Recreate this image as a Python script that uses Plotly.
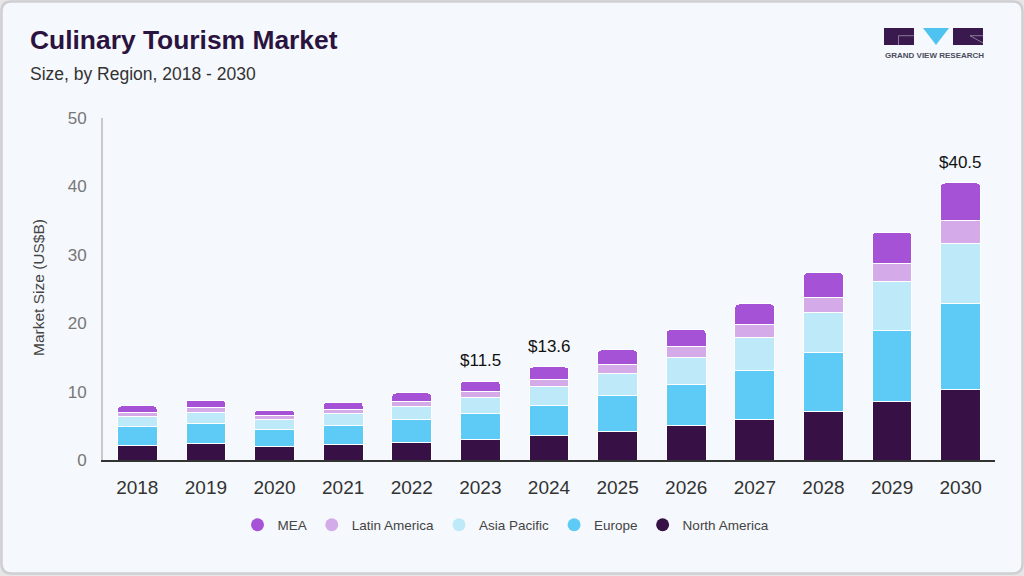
import plotly.graph_objects as go

years = ["2018", "2019", "2020", "2021", "2022", "2023", "2024", "2025", "2026", "2027", "2028", "2029", "2030"]
north_america = [2.1, 2.45, 2.0, 2.3, 2.6, 3.0, 3.6, 4.2, 5.0, 5.95, 7.1, 8.6, 10.3]
europe = [2.75, 2.85, 2.5, 2.75, 3.35, 3.8, 4.4, 5.25, 6.0, 7.1, 8.6, 10.3, 12.55]
asia_pacific = [1.45, 1.6, 1.45, 1.7, 1.85, 2.35, 2.75, 3.2, 4.0, 4.9, 5.9, 7.2, 8.85]
latin_america = [0.65, 0.75, 0.6, 0.65, 0.75, 0.9, 1.05, 1.35, 1.6, 1.9, 2.2, 2.65, 3.3]
mea = [0.95, 1.1, 0.75, 1.05, 1.25, 1.45, 1.8, 2.1, 2.45, 2.96, 3.6, 4.55, 5.5]
labelled_years = ["2023", "2024", "2030"]

series = [
    ("North America", north_america, "#371046"),
    ("Europe", europe, "#5DCBF5"),
    ("Asia Pacific", asia_pacific, "#BEE9F9"),
    ("Latin America", latin_america, "#D4AAE9"),
    ("MEA", mea, "#A552D7"),
]

W, H = 1024, 576
ML, MR, MT, MB = 103, 29, 118, 116
PW, PH = W - ML - MR, H - MT - MB


def px(x):
    return (x - ML) / PW


def py(y):
    return (H - MB - y) / PH


fig = go.Figure()
for name, vals, col in series:
    fig.add_trace(go.Bar(
        x=list(years), y=list(vals), name=name,
        marker=dict(color=col, line=dict(color="white", width=1)),
        showlegend=False,
    ))
for name, vals, col in reversed(series):
    fig.add_trace(go.Scatter(
        x=[0], y=[0], mode="markers", name=name, xaxis="x2", yaxis="y2",
        marker=dict(symbol="circle", size=13, color=col),
    ))

totals = [sum(v[i] for _, v, _ in series) for i in range(len(years))]
for i, yr in enumerate(years):
    if yr in labelled_years:
        # category axis: numeric x is the category index
        fig.add_annotation(x=i, y=totals[i], text=f"${totals[i]:.1f}", showarrow=False,
                           yanchor="bottom", yshift=9, font=dict(size=17, color="#111111"))

# card background with rounded corners
r = 10
cx0, cx1, cy0, cy1 = 1.5, W - 1.5, 1.5, H - 2.5
path = (f"M {px(cx0 + r)} {py(cy0)} L {px(cx1 - r)} {py(cy0)} Q {px(cx1)} {py(cy0)} {px(cx1)} {py(cy0 + r)} "
        f"L {px(cx1)} {py(cy1 - r)} Q {px(cx1)} {py(cy1)} {px(cx1 - r)} {py(cy1)} "
        f"L {px(cx0 + r)} {py(cy1)} Q {px(cx0)} {py(cy1)} {px(cx0)} {py(cy1 - r)} "
        f"L {px(cx0)} {py(cy0 + r)} Q {px(cx0)} {py(cy0)} {px(cx0 + r)} {py(cy0)} Z")
shapes = [dict(type="path", xref="paper", yref="paper", path=path, fillcolor="#F5F8FC",
               line=dict(color="#CFCFD2", width=2.5), layer="below")]

# logo
logo_dark = "#3A1A4E"
shapes += [
    dict(type="rect", xref="paper", yref="paper", x0=px(884), x1=px(914), y0=py(45), y1=py(28),
         fillcolor=logo_dark, line=dict(width=0)),
    dict(type="path", xref="paper", yref="paper",
         path=f"M {px(923)} {py(28)} L {px(949)} {py(28)} L {px(936)} {py(45)} Z",
         fillcolor="#4FC3F0", line=dict(width=0)),
    dict(type="rect", xref="paper", yref="paper", x0=px(953), x1=px(983), y0=py(45), y1=py(28),
         fillcolor=logo_dark, line=dict(width=0)),
    dict(type="path", xref="paper", yref="paper",
         path=f"M {px(914)} {py(35.7)} L {px(898.5)} {py(35.7)} L {px(898.5)} {py(45)}",
         line=dict(color="#9C90A8", width=0.8)),
    dict(type="path", xref="paper", yref="paper",
         path=f"M {px(983)} {py(35.7)} L {px(970)} {py(35.7)} L {px(983)} {py(43)}",
         line=dict(color="#9C90A8", width=0.8)),
]

fig.add_annotation(xref="paper", yref="paper", x=px(934), y=py(55), text="<b>GRAND VIEW RESEARCH</b>",
                   showarrow=False, xanchor="center", yanchor="middle",
                   font=dict(size=8, color="#4A4D5C"))
fig.add_annotation(xref="paper", yref="paper", x=px(28), y=py(40), text="<b>Culinary Tourism Market</b>",
                   showarrow=False, xanchor="left", yanchor="middle",
                   font=dict(size=26.4, color="#2B1340"))
fig.add_annotation(xref="paper", yref="paper", x=px(28), y=py(74), text="Size, by Region, 2018 - 2030",
                   showarrow=False, xanchor="left", yanchor="middle",
                   font=dict(size=17.5, color="#333333"))
fig.add_annotation(xref="paper", yref="paper", x=px(38), y=py(288), text="Market Size (US$B)",
                   showarrow=False, xanchor="center", yanchor="middle", textangle=-90,
                   font=dict(size=15.5, color="#444444"))

fig.update_layout(
    width=W, height=H,
    margin=dict(l=ML, r=MR, t=MT, b=MB),
    barmode="stack", bargap=0.42, barcornerradius=4,
    paper_bgcolor="#E6E6E8", plot_bgcolor="rgba(0,0,0,0)",
    font=dict(family="Liberation Sans, Arial, sans-serif"),
    shapes=shapes,
    legend=dict(orientation="h", x=px(506), xanchor="center", y=py(525), yanchor="middle",
                font=dict(size=13.5, color="#444444"), bgcolor="rgba(0,0,0,0)",
                itemwidth=30, traceorder="normal"),
    xaxis=dict(type="category", categoryorder="array", categoryarray=years,
               showgrid=False, showline=True, linecolor="#333333", linewidth=1.5,
               tickfont=dict(size=19, color="#333333"), ticks="outside", ticklen=9,
               tickcolor="rgba(0,0,0,0)", fixedrange=True),
    yaxis=dict(range=[0, 50], dtick=10, showgrid=False, showline=True, linecolor="#C9C9CC",
               linewidth=2, zeroline=False, tickfont=dict(size=17, color="#777777"),
               ticks="outside", ticklen=11, tickcolor="rgba(0,0,0,0)", fixedrange=True),
    xaxis2=dict(domain=[0, 0.01], range=[10, 11], visible=False, anchor="y2", fixedrange=True),
    yaxis2=dict(domain=[0, 0.01], range=[10, 11], visible=False, anchor="x2", fixedrange=True),
)

fig.write_html("out.html", config={"displayModeBar": False},
               post_script="document.body.style.margin='0';document.body.style.overflow='hidden';")
